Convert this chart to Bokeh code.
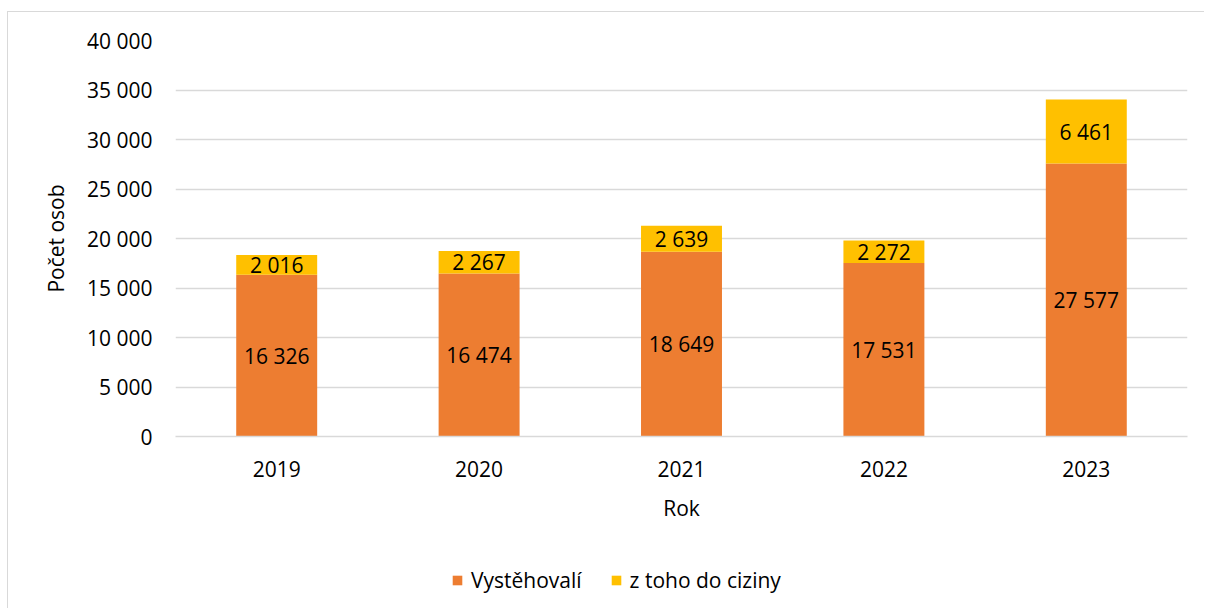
from bokeh.plotting import figure
from bokeh.layouts import column
from bokeh.models import ColumnDataSource, FactorRange, Range1d, FixedTicker, Legend, LegendItem, LabelSet
from bokeh.core.properties import value
from bokeh.embed import file_html
from bokeh.resources import INLINE

years = ["2019", "2020", "2021", "2022", "2023"]
vystehovali = [16326, 16474, 18649, 17531, 27577]
do_ciziny = [2016, 2267, 2639, 2272, 6461]
y_ticks = [0, 5000, 10000, 15000, 20000, 25000, 30000, 35000, 40000]
series_names = ["Vystěhovalí", "z toho do ciziny"]

FONT = "Open Sans"
FS = "21px"
ORANGE = "#ED7D31"
YELLOW = "#FFC000"
GRID = "#D9D9D9"

def fmt(v):
    return f"{v:,}".replace(",", " ")

src = ColumnDataSource(dict(
    year=years,
    v=vystehovali,
    c=do_ciziny,
    v_mid=[a / 2 for a in vystehovali],
    c_mid=[a + b / 2 for a, b in zip(vystehovali, do_ciziny)],
    v_lab=[fmt(a) for a in vystehovali],
    c_lab=[fmt(b) for b in do_ciziny],
))

W = 1196
H1, H2 = 530, 66
p = figure(x_range=FactorRange(*years, range_padding=0), y_range=Range1d(0, 40000),
           width=W, height=H1, output_backend="svg", toolbar_location=None,
           min_border_left=167, min_border_right=17, min_border_top=28, min_border_bottom=106)
p.outline_line_color = None

rs = p.vbar_stack(["v", "c"], x="year", width=0.4, color=[ORANGE, YELLOW], source=src, line_color=None)

for col, lab in (("v_mid", "v_lab"), ("c_mid", "c_lab")):
    p.add_layout(LabelSet(x="year", y=col, text=lab, source=src, text_align="center",
                          text_baseline="middle", text_font=value(FONT), text_font_size=FS,
                          text_color="#000000"))

# axes
p.yaxis.ticker = FixedTicker(ticks=y_ticks)
p.yaxis.major_label_overrides = {t: fmt(t) for t in y_ticks}
p.yaxis.axis_line_color = None
p.yaxis.major_tick_line_color = None
p.yaxis.minor_tick_line_color = None
p.yaxis.major_label_standoff = 17
p.yaxis.axis_label = "Počet osob"
p.yaxis.axis_label_standoff = 14
p.yaxis.axis_label_text_font_style = "normal"

p.xaxis.axis_line_color = GRID
p.xaxis.axis_line_width = 1.5
p.xaxis.major_tick_line_color = None
p.xaxis.minor_tick_line_color = None
p.xaxis.major_label_standoff = 18
p.xaxis.axis_label = "Rok"
p.xaxis.axis_label_standoff = 14
p.xaxis.axis_label_text_font_style = "normal"

for ax in (p.xaxis, p.yaxis):
    ax.major_label_text_font = FONT
    ax.major_label_text_font_size = FS
    ax.major_label_text_color = "#000000"
    ax.axis_label_text_font = FONT
    ax.axis_label_text_font_size = FS
    ax.axis_label_text_color = "#000000"

p.xgrid.grid_line_color = None
p.ygrid.grid_line_color = GRID
p.ygrid.grid_line_width = 1.5

# legend strip
nan = float("nan")
p2 = figure(width=W, height=H2, x_range=Range1d(0, W), y_range=Range1d(0, H2),
            output_backend="svg", toolbar_location=None, x_axis_type=None, y_axis_type=None,
            min_border=0)
p2.outline_line_color = None
p2.grid.visible = False
r1 = p2.quad(left=[nan], right=[nan], top=[nan], bottom=[nan], color=ORANGE, line_color=None)
r2 = p2.quad(left=[nan], right=[nan], top=[nan], bottom=[nan], color=YELLOW, line_color=None)
legend = Legend(items=[LegendItem(label=series_names[0], renderers=[r1]),
                       LegendItem(label=series_names[1], renderers=[r2])],
                orientation="horizontal", location=(276, 14),
                glyph_width=12, glyph_height=12, label_standoff=8, spacing=28,
                padding=2, margin=0, border_line_color=None, background_fill_alpha=0,
                label_text_font=FONT, label_text_font_size=FS, label_text_color="#000000")
p2.add_layout(legend, "center")

layout = column(p, p2, spacing=0,
                styles={"margin-top": "11px", "margin-left": "7px",
                        "border-top": "1px solid #D9D9D9", "border-left": "1px solid #D9D9D9"})

open("out.html", "w").write(file_html(layout, INLINE))
